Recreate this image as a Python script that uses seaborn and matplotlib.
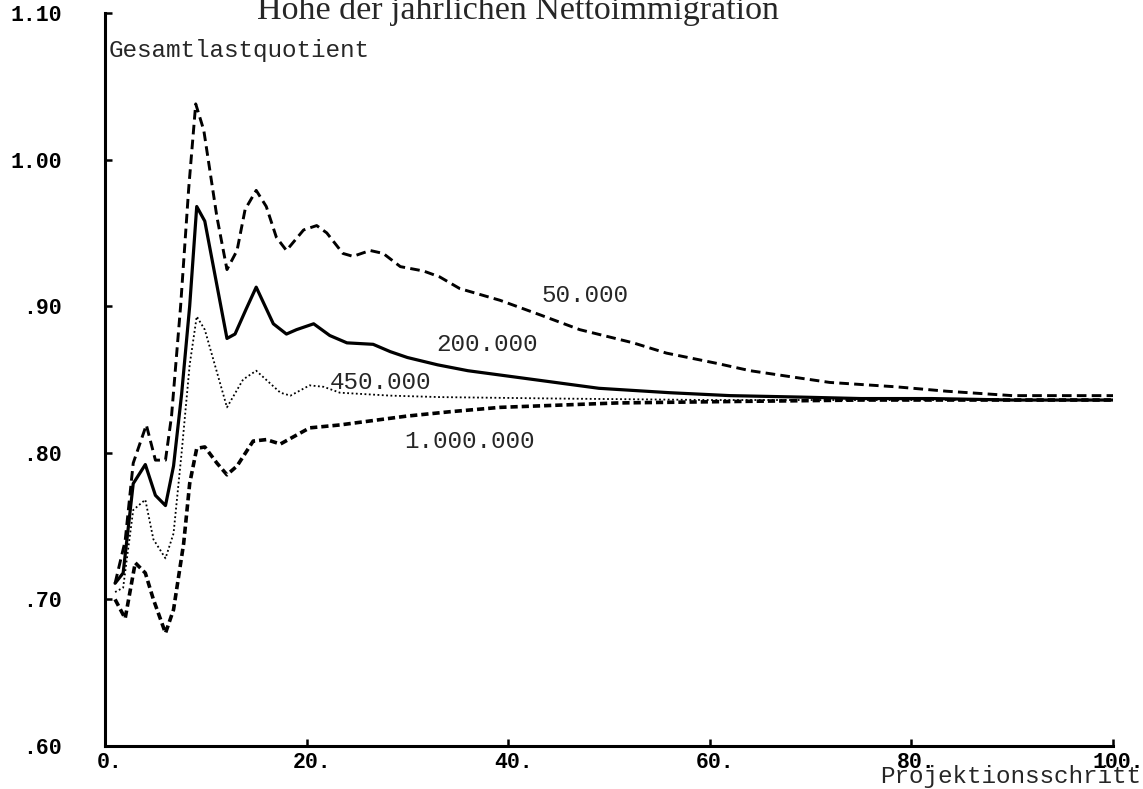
import numpy as np
import pandas as pd
import matplotlib
matplotlib.use("Agg")
import matplotlib.pyplot as plt
import matplotlib.transforms as mtransforms
import seaborn as sns

# values (x = Projektionsschritt, y = Gesamtlastquotient)
x_50k = [1, 2, 2.8, 4.1, 5, 6, 6.6, 7.5, 8.3, 9, 9.8, 11.1, 12.1, 13.1, 13.9, 15, 16, 17, 18,
         19.7, 21, 22, 23.6, 24.6, 26.3, 27.6, 29.3, 31.6, 33.2, 35.2, 39.2, 43.2, 47.1, 52.4,
         55.7, 60.7, 64, 68.9, 71.9, 78.5, 83.5, 90, 100]
y_50k = [0.711, 0.74, 0.793, 0.819, 0.795, 0.795, 0.825, 0.9, 0.98, 1.038, 1.02, 0.961, 0.925,
         0.938, 0.966, 0.979, 0.968, 0.947, 0.938, 0.952, 0.955, 0.950, 0.936, 0.934, 0.938,
         0.936, 0.927, 0.924, 0.920, 0.912, 0.904, 0.894, 0.884, 0.875, 0.868, 0.861, 0.856,
         0.851, 0.848, 0.845, 0.842, 0.839, 0.839]

x_200k = [1, 1.8, 2.8, 4, 5, 6, 6.8, 7.6, 8.4, 9.1, 9.9, 12.1, 12.9, 14, 15, 16.7, 18, 19,
          20.7, 22.3, 24, 26.6, 28.3, 30, 33, 36, 42.5, 49, 56, 62, 69, 75, 82, 90, 100]
y_200k = [0.711, 0.718, 0.779, 0.792, 0.771, 0.764, 0.791, 0.84, 0.90, 0.968, 0.958, 0.878,
          0.881, 0.898, 0.913, 0.888, 0.881, 0.884, 0.888, 0.880, 0.875, 0.874, 0.869, 0.865,
          0.860, 0.856, 0.850, 0.844, 0.841, 0.839, 0.838, 0.837, 0.837, 0.836, 0.836]

x_450k = [1, 1.8, 2.8, 4, 4.8, 6, 6.8, 7.6, 8.4, 9.1, 9.9, 12.1, 13.7, 15, 17.4, 18.4, 20.3,
          21.7, 23.3, 28.3, 33.2, 45, 60, 80, 100]
y_450k = [0.705, 0.708, 0.761, 0.768, 0.741, 0.728, 0.745, 0.80, 0.86, 0.893, 0.884, 0.831,
          0.850, 0.856, 0.841, 0.839, 0.846, 0.845, 0.841, 0.839, 0.838, 0.837, 0.836, 0.836,
          0.836]

x_1m = [1, 2, 3, 4, 4.8, 6, 6.8, 7.8, 8.4, 9.1, 9.9, 11.1, 12.1, 13.1, 14.7, 16, 17.4, 20.3,
        23.3, 26.6, 29.9, 34.2, 39.2, 50.8, 62.3, 75, 90, 100]
y_1m = [0.700, 0.687, 0.725, 0.718, 0.700, 0.677, 0.693, 0.738, 0.779, 0.803, 0.804, 0.793,
        0.785, 0.791, 0.808, 0.809, 0.806, 0.817, 0.819, 0.822, 0.825, 0.828, 0.831, 0.834,
        0.835, 0.836, 0.836, 0.836]

series_names = ["50.000", "200.000", "450.000", "1.000.000"]

x_ticks = [0, 20, 40, 60, 80, 100]
x_ticklabels = ["0.", "20.", "40.", "60.", "80.", "100."]
y_ticks = [0.6, 0.7, 0.8, 0.9, 1.0, 1.1]
y_ticklabels = [".60", ".70", ".80", ".90", "1.00", "1.10"]

# where the curve labels sit (data coords)
label_pos = {"50.000": (47.6, 0.907), "200.000": (37.9, 0.874),
             "450.000": (27.3, 0.848), "1.000.000": (36.2, 0.808)}

df = pd.concat([
    pd.DataFrame({"step": xs, "value": ys, "Immigration": name})
    for name, xs, ys in zip(series_names, [x_50k, x_200k, x_450k, x_1m],
                            [y_50k, y_200k, y_450k, y_1m])
], ignore_index=True)

sns.set_style("ticks")
plt.rcParams["font.family"] = ["Liberation Mono", "DejaVu Sans Mono"]

W, H = 1143, 789
fig = plt.figure(figsize=(W / 100, H / 100), dpi=100)
ax = fig.add_axes([105 / W, 1 - 746 / H, (1113 - 105) / W, (746 - 13) / H])

dashes = {"50.000": (3.3, 1.8), "200.000": "", "450.000": (1, 1.4), "1.000.000": (2, 1.1)}
widths = {"50.000": 2.1, "200.000": 2.3, "450.000": 1.3, "1.000.000": 2.6}

sns.lineplot(data=df, x="step", y="value", style="Immigration", size="Immigration",
             dashes=dashes, sizes=widths, color="black", estimator=None, sort=False,
             legend=False, ax=ax)

ax.set_xlim(0, 100)
ax.set_ylim(0.6, 1.1)
ax.set_xticks(x_ticks)
ax.set_xticklabels(x_ticklabels)
ax.set_yticks(y_ticks)
ax.set_yticklabels(y_ticklabels)
ax.set_xlabel("")
ax.set_ylabel("")
sns.despine(ax=ax)
for s in ["left", "bottom"]:
    ax.spines[s].set_linewidth(2.2)
    ax.spines[s].set_color("black")
ax.tick_params(axis="both", direction="in", length=5, width=1.8, colors="black",
               labelsize=15.5)
ax.tick_params(axis="x", pad=4)
ax.tick_params(axis="y", pad=31)
# digits centred on the tick, trailing dot hangs to the right
shift = mtransforms.ScaledTranslation(5 / 100, 0, fig.dpi_scale_trans)
for lab in ax.get_xticklabels():
    lab.set_fontweight("bold")
    lab.set_transform(lab.get_transform() + shift)
for lab in ax.get_yticklabels():
    lab.set_fontweight("bold")

for name, (lx, ly) in label_pos.items():
    ax.text(lx, ly, name, fontsize=17.5, ha="center", va="center")

fig.text(109 / W, 1 - 57 / H, "Gesamtlastquotient", fontsize=17.5, ha="left", va="baseline")
fig.text(1141 / W, 1 - 783 / H, "Projektionsschritt", fontsize=17.5, ha="right", va="baseline")
fig.text(518 / W, 1 - 19 / H, "Höhe der jährlichen Nettoimmigration",
         family=["Liberation Serif", "DejaVu Serif"], fontsize=24.5, ha="center", va="baseline")

fig.savefig("out.png", dpi=100)
